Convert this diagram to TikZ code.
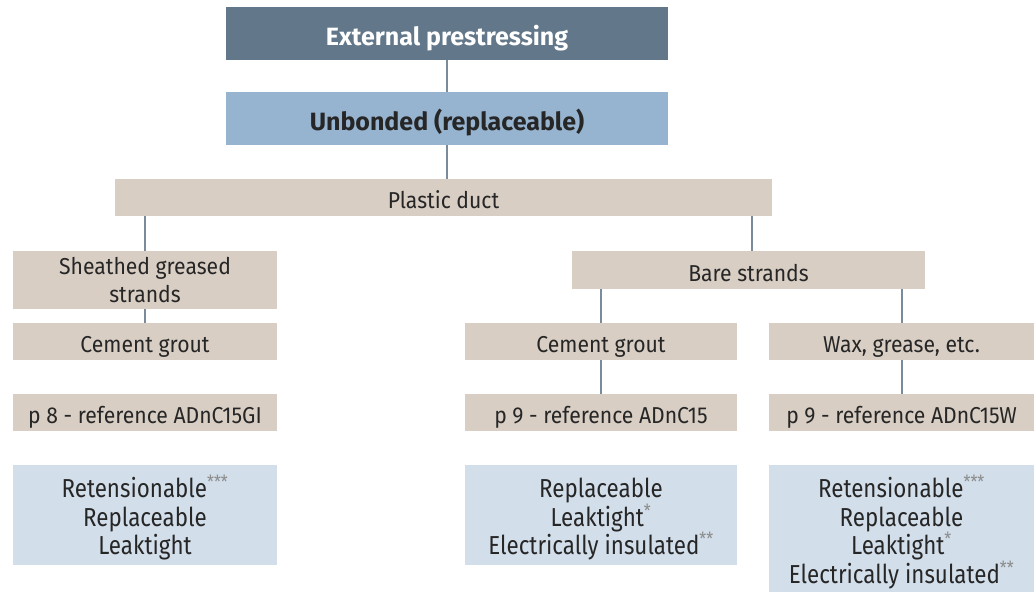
\documentclass[tikz,border=0pt]{standalone}
\usepackage{fontspec}
\setmainfont{Fira Sans}
\newfontfamily\boxfont{Fira Sans}[FakeStretch=0.92]
\newfontfamily\narrowfont{Fira Sans}[FakeStretch=0.86]
\usetikzlibrary{positioning}

\definecolor{darkslate}{HTML}{627789}
\definecolor{midblue}{HTML}{96B3CF}
\definecolor{beige}{HTML}{D8CEC4}
\definecolor{paleblue}{HTML}{D2DEEA}
\definecolor{linkgray}{HTML}{7A8C9C}

\tikzset{
    box/.style={rectangle, inner sep=0pt, align=center, fill=beige,
        font=\boxfont\fontsize{23}{28}\selectfont, text=black!85,
        text height=22pt, text depth=0pt},
    headbox/.style={box, font=\bfseries\fontsize{25}{29}\selectfont,
        text height=23pt, minimum width=442pt, minimum height=53pt},
    propbox/.style={rectangle, inner sep=0pt, align=center, fill=paleblue,
        font=\narrowfont\fontsize{26}{28.5}\selectfont, text=black!85},
    link/.style={draw=linkgray, line width=2pt},
}
\newcommand{\stars}[1]{\textsuperscript{\color{black!45}#1}}
\newcommand{\firstline}[1]{\rule{0pt}{#1}}

\begin{document}
\begin{tikzpicture}[x=1pt, y=-1pt]
    \useasboundingbox (0,0) rectangle (1034,592);

    % Top of the tree
    \node[headbox, fill=darkslate, text=white] (ext) at (447,33.5) {External prestressing};
    \node[headbox, fill=midblue] (unb) at (447,118.5) {Unbonded (replaceable)};
    \node[box, minimum width=657pt, minimum height=37pt] (duct) at (443.5,197.5) {Plastic duct};

    % Strand types
    \node[box, minimum width=264pt, minimum height=58pt, text height=, text depth=]
        (sheath) at (145,280) {\firstline{18pt}Sheathed greased\\strands};
    \node[box, minimum width=353pt, minimum height=38pt] (bare) at (748.5,270) {Bare strands};

    % Fillings
    \node[box, minimum width=264pt, minimum height=37pt] (groutL) at (145,341.5) {Cement grout};
    \node[box, minimum width=272pt, minimum height=37pt] (groutM) at (601,341.5) {Cement grout};
    \node[box, minimum width=265pt, minimum height=37pt] (wax) at (901.5,341.5) {Wax, grease, etc.};

    % References
    \node[box, minimum width=264pt, minimum height=37pt] (refL) at (145,412.5) {p 8 - reference ADnC15GI};
    \node[box, minimum width=272pt, minimum height=37pt] (refM) at (601,412.5) {p 9 - reference ADnC15};
    \node[box, minimum width=265pt, minimum height=37pt] (refR) at (901.5,412.5) {p 9 - reference ADnC15W};

    % Properties
    \node[propbox, minimum width=264pt, minimum height=100pt] (propL) at (145,515)
        {\firstline{28.5pt}Retensionable\stars{***}\\Replaceable\\Leaktight};
    \node[propbox, minimum width=272pt, minimum height=100pt] (propM) at (601,515)
        {\firstline{28.5pt}Replaceable\\Leaktight\stars{*}\\Electrically insulated\stars{**}};
    \node[propbox, minimum width=265pt, minimum height=127pt] (propR) at (901.5,528.5)
        {\firstline{30pt}Retensionable\stars{***}\\Replaceable\\Leaktight\stars{*}\\Electrically insulated\stars{**}};

    % Links
    \draw[link] (ext) -- (unb);
    \draw[link] (unb) -- (unb |- duct.north);
    \draw[link] (sheath.north) -- (sheath.north |- duct.south);
    \draw[link] ([xshift=3.5pt]bare.north) -- ([xshift=3.5pt]bare.north |- duct.south);
    \draw[link] (sheath) -- (groutL);
    \draw[link] (groutM.north) -- (groutM.north |- bare.south);
    \draw[link] (wax.north) -- (wax.north |- bare.south);
    \draw[link] (groutM) -- (refM);
    \draw[link] (wax) -- (refR);
\end{tikzpicture}
\end{document}
